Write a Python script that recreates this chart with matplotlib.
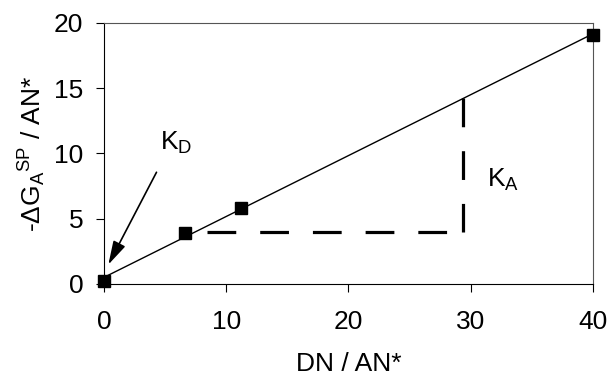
import matplotlib
matplotlib.use('Agg')
import matplotlib.pyplot as plt
import numpy as np

plt.rcParams['font.family'] = ['Liberation Sans', 'DejaVu Sans']
plt.rcParams['mathtext.fontset'] = 'custom'
plt.rcParams['mathtext.rm'] = 'Liberation Sans'
plt.rcParams['mathtext.it'] = 'Liberation Sans'
plt.rcParams['mathtext.default'] = 'regular'

# data
dn_an = [0.0, 6.6, 11.2, 40.0]
dg_an = [0.2, 3.9, 5.8, 19.1]
xticks = [0, 10, 20, 30, 40]
yticks = [0, 5, 10, 15, 20]

# construction lines for K_A
ka_x0, ka_x1 = 8.4, 29.4
ka_y0 = 4.0

slope, icpt = np.polyfit(dn_an, dg_an, 1)
xfit = np.array([0.0, 40.0])
yfit = icpt + slope * xfit

fig = plt.figure(figsize=(6.1, 3.75), dpi=100)
ax = fig.add_axes([0.1705, 0.2427, 0.8015, 0.696])

ax.plot(xfit, yfit, '-', color='black', lw=1.0)
ax.plot(dn_an, dg_an, 's', color='black', ms=8.5, clip_on=False, zorder=5)

ytop = icpt + slope * ka_x1
ax.plot([ka_x0, ka_x1], [ka_y0, ka_y0], color='black', lw=2.3, dashes=(9, 7.5), dash_capstyle='butt')
ax.plot([ka_x1, ka_x1], [ytop, ka_y0], color='black', lw=2.3, dashes=(9, 7.5), dash_capstyle='butt')

ax.annotate('', xy=(0.25, 1.3), xytext=(4.4, 8.75),
            arrowprops=dict(arrowstyle='-|>,head_length=0.9,head_width=0.25', color='black', lw=1.2, mutation_scale=16))
ax.text(4.6, 10.8, r'$K_D$', fontsize=19, ha='left', va='center')
ax.text(31.3, 8.0, r'$K_A$', fontsize=19, ha='left', va='center')

ax.set_xlim(0, 40)
ax.set_ylim(0, 20)
ax.set_xticks(xticks)
ax.set_yticks(yticks)
ax.tick_params(direction='out', length=6, width=0.8, labelsize=19, pad=9)
ax.tick_params(axis='x', pad=13)
ax.set_xlabel('DN / AN*', fontsize=19, labelpad=13)
ax.set_ylabel(r'-$\Delta G_A{}^{SP}$ / AN*', fontsize=19, labelpad=4)
for s in ax.spines.values():
    s.set_linewidth(0.8)
ax.spines['top'].set_color('#555555')
ax.spines['right'].set_color('#555555')

plt.savefig('out.png', dpi=100)
